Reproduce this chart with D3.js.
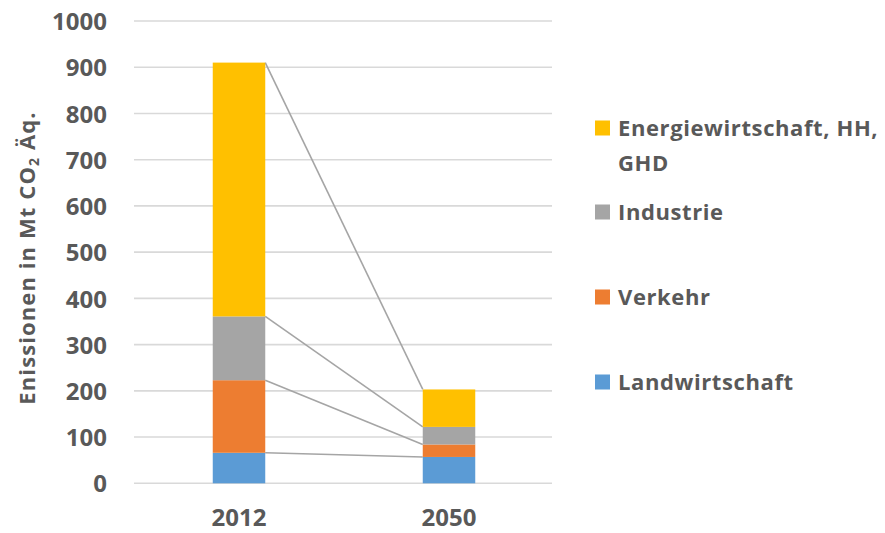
<!DOCTYPE html>
<html>
<head>
<meta charset="utf-8">
<script src="https://cdn.jsdelivr.net/npm/d3@7"></script>
<style>
  html, body { margin: 0; padding: 0; background: #fff; }
  svg { display: block; }
  text { font-family: "Open Sans", "DejaVu Sans", sans-serif; font-weight: 700; fill: #595959; }
</style>
</head>
<body>
<svg id="chart" width="885" height="533"></svg>
<script>
// Emissionen je Sektor (Mt CO2-Äquivalente)
const years = ["2012", "2050"];
const sectors = ["Landwirtschaft", "Verkehr", "Industrie", "Energiewirtschaft, HH, GHD"];
const landwirtschaft = [66, 57];
const verkehr = [157, 27];
const industrie = [138, 38];
const energie = [549, 81];
const yTicks = [0, 100, 200, 300, 400, 500, 600, 700, 800, 900, 1000];
const colors = ["#5B9BD5", "#ED7D31", "#A5A5A5", "#FFC000"];
const legendLines = [["Energiewirtschaft, HH,", "GHD"], ["Industrie"], ["Verkehr"], ["Landwirtschaft"]];

const rows = years.map((y, i) => ({
  year: y,
  "Landwirtschaft": landwirtschaft[i],
  "Verkehr": verkehr[i],
  "Industrie": industrie[i],
  "Energiewirtschaft, HH, GHD": energie[i]
}));

const svg = d3.select("#chart");
const plot = { left: 134, right: 554, top: 21, bottom: 483.3 };

const x = d3.scaleBand().domain(years).range([plot.left, plot.right])
  .paddingInner(0.75).paddingOuter(0.375);
const y = d3.scaleLinear().domain([0, 1000]).range([plot.bottom, plot.top]);

// Gitterlinien
svg.append("g").selectAll("line").data(yTicks).join("line")
  .attr("x1", plot.left).attr("x2", 552)
  .attr("y1", d => y(d)).attr("y2", d => y(d))
  .attr("stroke", "#D9D9D9").attr("stroke-width", 1.6);

// Achse links (nur Beschriftung)
const yAxis = d3.axisLeft(y).tickValues(yTicks).tickFormat(d3.format("d")).tickSize(0).tickPadding(0);
const gy = svg.append("g").attr("transform", "translate(107,0)").call(yAxis);
gy.select(".domain").remove();
gy.selectAll("text").attr("font-size", 24).attr("dy", "0.36em")
  .style("font-family", "'Open Sans', sans-serif").style("font-weight", 700).attr("fill", "#595959");

// Achse unten
const xAxis = d3.axisBottom(x).tickSize(0).tickPadding(0);
const gx = svg.append("g").attr("transform", "translate(0,526)").call(xAxis);
gx.select(".domain").remove();
gx.selectAll("text").attr("font-size", 24).attr("dy", 0)
  .style("font-family", "'Open Sans', sans-serif").style("font-weight", 700).attr("fill", "#595959");

// Gestapelte Säulen
const stack = d3.stack().keys(sectors)(rows);

// Verbindungslinien zwischen den Oberkanten der Segmente
const first = x(years[0]) + x.bandwidth();
const second = x(years[1]);
svg.append("g").selectAll("line").data(stack).join("line")
  .attr("x1", first).attr("x2", second)
  .attr("y1", s => y(s[0][1])).attr("y2", s => y(s[1][1]))
  .attr("stroke", "#A5A5A5").attr("stroke-width", 1.6);

svg.append("g").selectAll("g").data(stack).join("g")
  .attr("fill", (s, i) => colors[i])
  .selectAll("rect").data(s => s).join("rect")
  .attr("x", d => x(d.data.year))
  .attr("width", x.bandwidth())
  .attr("y", d => y(d[1]))
  .attr("height", d => y(d[0]) - y(d[1]));

// Achsentitel
const title = svg.append("text")
  .attr("transform", "translate(35,258) rotate(-90)")
  .attr("text-anchor", "middle")
  .attr("font-size", 22)
  .attr("letter-spacing", 1.1);
title.append("tspan").text("Enissionen in Mt CO");
title.append("tspan").attr("font-size", 14).attr("dy", 4).text("2");
title.append("tspan").attr("dy", -4).text(" Äq.");

// Legende
const legendY = [128, 212, 297, 382];
const legend = svg.append("g");
legendLines.forEach((lines, i) => {
  const idx = sectors.length - 1 - i;
  legend.append("rect")
    .attr("x", 595).attr("y", legendY[i] - 7.5)
    .attr("width", 15).attr("height", 15)
    .attr("fill", colors[idx]);
  const t = legend.append("text").attr("x", 618).attr("y", legendY[i] + 8)
    .attr("font-size", 22).attr("letter-spacing", 0.6);
  lines.forEach((ln, j) => {
    t.append("tspan").attr("x", 618).attr("dy", j === 0 ? 0 : 35).text(ln);
  });
});
</script>
</body>
</html>
